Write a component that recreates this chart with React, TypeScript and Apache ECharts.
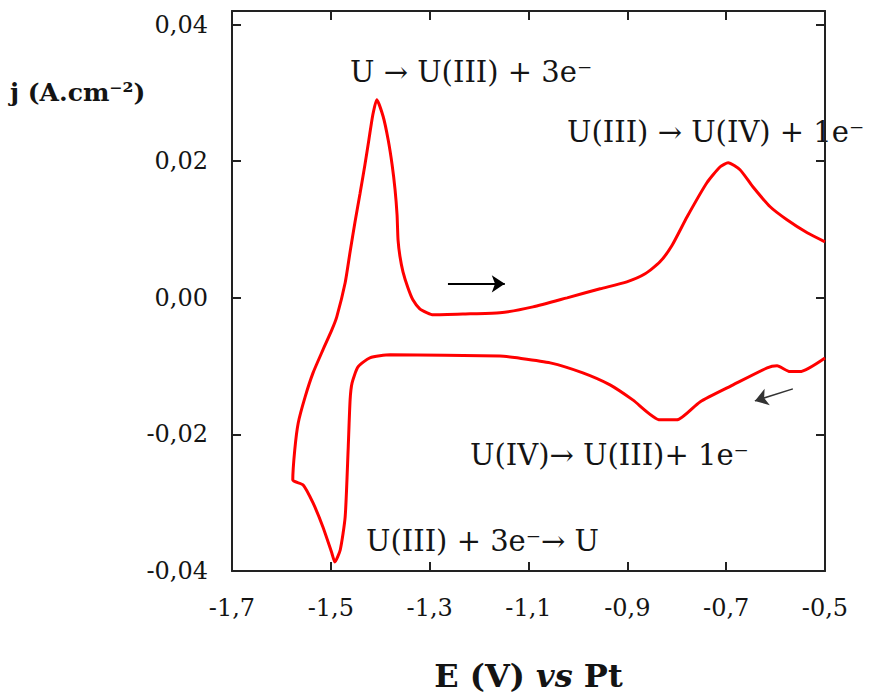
import React, { useEffect, useRef } from "react";
import * as echarts from "echarts";

// Cyclic voltammogram: potential E (V vs Pt) and current density j (A.cm-2), in scan order
const potential = [
  -0.5, -0.551, -0.571, -0.597, -0.617, -0.686, -0.753, -0.8, -0.834, -0.889,
  -0.935, -0.99, -1.056, -1.123, -1.158, -1.38, -1.421, -1.445, -1.457, -1.461,
  -1.465, -1.471, -1.481, -1.492, -1.498, -1.516, -1.536, -1.556, -1.577, -1.573,
  -1.566, -1.552, -1.536, -1.516, -1.498, -1.488, -1.471, -1.461, -1.451, -1.441,
  -1.431, -1.423, -1.415, -1.407, -1.394, -1.384, -1.376, -1.37, -1.366, -1.364,
  -1.36, -1.354, -1.344, -1.334, -1.32, -1.305, -1.293, -1.218, -1.158, -1.091,
  -1.022, -0.955, -0.901, -0.864, -0.834, -0.81, -0.779, -0.739, -0.712, -0.696,
  -0.672, -0.646, -0.611, -0.577, -0.536, -0.5,
];
const current = [
  -0.0088, -0.0108, -0.0108, -0.00996, -0.01026, -0.01275, -0.01524, -0.01787, -0.01787, -0.01494,
  -0.01275, -0.01099, -0.00952, -0.00879, -0.0085, -0.00835, -0.00879, -0.01011, -0.01245, -0.01494,
  -0.02227, -0.03209, -0.03692, -0.03868, -0.03736, -0.03355, -0.03004, -0.0274, -0.02667, -0.02227,
  -0.01832, -0.0145, -0.01099, -0.00762, -0.00469, -0.00278, 0.0022, 0.00674, 0.01114, 0.01524,
  0.01949, 0.02315, 0.02681, 0.02901, 0.02652, 0.02315, 0.01949, 0.01582, 0.01216, 0.0085,
  0.00601, 0.00381, 0.00147, -0.00029, -0.00161, -0.0022, -0.00249, -0.00234, -0.0022, -0.00132,
  0.0, 0.00132, 0.00234, 0.00352, 0.00527, 0.00762, 0.01187, 0.01685, 0.01919, 0.01978,
  0.01875, 0.01626, 0.01333, 0.01143, 0.00952, 0.0082,
];

// Scan-direction arrows [x1, y1, x2, y2]
const forwardArrow = [-1.263, 0.00205, -1.148, 0.00205];
const reverseArrow = [-0.565, -0.01333, -0.642, -0.01509];

const xTicks = { min: -1.7, max: -0.5, interval: 0.2 };
const yTicks = { min: -0.04, max: 0.042, interval: 0.02 };

const annotations = [
  "U \u2192 U(III) + 3e\u207B",
  "U(III) \u2192 U(IV) + 1e\u207B",
  "U(IV)\u2192 U(III)+ 1e\u207B",
  "U(III) + 3e\u207B\u2192 U",
];

const FONT = "'DejaVu Serif', serif";
const INK = "#141414";
const AXIS = "#222";

export default function App() {
  const ref = useRef<HTMLDivElement>(null);

  useEffect(() => {
    if (!ref.current) return;
    const chart = echarts.init(ref.current, undefined, { renderer: "svg" });
    const data = potential.map((x, i) => [x, current[i]]);

    const xFmt = (v: number) => v.toFixed(1).replace(".", ",");
    const yFmt = (v: number) => {
      if (Math.abs(Math.round(v / 0.02) * 0.02 - v) > 1e-6) return "";
      return v.toFixed(2).replace(".", ",").replace("-0,00", "0,00");
    };

    const axisLine = { show: true, onZero: false, lineStyle: { color: AXIS, width: 2 } };
    const axisTick = { show: true, inside: true, length: 9, lineStyle: { color: AXIS, width: 2 } };

    const annPos = [
      [350, 72],
      [567, 132],
      [470, 455],
      [366, 541],
    ];

    chart.setOption({
      animation: false,
      grid: {
        left: 232,
        right: 45,
        top: 11,
        bottom: 124,
        containLabel: false,
        outerBoundsMode: "none",
      },
      xAxis: [
        {
          type: "value",
          position: "bottom",
          ...xTicks,
          axisLine,
          axisTick,
          splitLine: { show: false },
          axisLabel: {
            formatter: xFmt,
            fontFamily: FONT,
            fontSize: 24,
            color: INK,
            margin: 25,
          },
          name: "{a|E (V) }{b|vs}{a| Pt}",
          nameLocation: "middle",
          nameGap: 89,
          nameTextStyle: {
            rich: {
              a: { fontFamily: FONT, fontSize: 32, fontWeight: "bold", color: INK },
              b: { fontFamily: FONT, fontSize: 32, fontWeight: "bold", fontStyle: "italic", color: INK },
            },
          },
        },
        {
          type: "value",
          position: "top",
          ...xTicks,
          axisLine,
          axisTick,
          splitLine: { show: false },
          axisLabel: { show: false },
        },
      ],
      yAxis: [
        {
          type: "value",
          position: "left",
          ...yTicks,
          axisLine,
          axisTick,
          splitLine: { show: false },
          axisLabel: {
            formatter: yFmt,
            fontFamily: FONT,
            fontSize: 24,
            color: INK,
            margin: 24,
          },
        },
        {
          type: "value",
          position: "right",
          ...yTicks,
          axisLine,
          axisTick,
          splitLine: { show: false },
          axisLabel: { show: false },
        },
      ],
      series: [
        {
          type: "line",
          data,
          symbol: "none",
          smooth: 0.2,
          lineStyle: { color: "#ff0000", width: 3 },
          silent: true,
          markLine: {
            silent: true,
            symbol: ["none", "arrow"],
            symbolSize: 13,
            label: { show: false },
            lineStyle: { color: "#000", width: 2, type: "solid" },
            data: [
              [
                { coord: [forwardArrow[0], forwardArrow[1]] },
                { coord: [forwardArrow[2], forwardArrow[3]] },
              ],
              [
                { coord: [reverseArrow[0], reverseArrow[1]], lineStyle: { color: "#333", width: 1.5 } },
                { coord: [reverseArrow[2], reverseArrow[3]] },
              ],
            ],
          },
        },
      ],
      graphic: [
        {
          type: "text",
          x: 10,
          y: 92,
          style: {
            text: "j (A.cm\u207B\u00B2)",
            font: `bold 25px ${FONT}`,
            fill: INK,
            verticalAlign: "middle",
          },
        },
        ...annotations.map((t, i) => ({
          type: "text",
          x: annPos[i][0],
          y: annPos[i][1],
          style: {
            text: t,
            font: `29px ${FONT}`,
            fill: INK,
            verticalAlign: "middle",
          },
        })),
      ],
    });

    return () => chart.dispose();
  }, []);

  return (
    <div
      ref={ref}
      style={{ position: "fixed", left: 0, top: 0, width: 870, height: 695, background: "#fff" }}
    />
  );
}
